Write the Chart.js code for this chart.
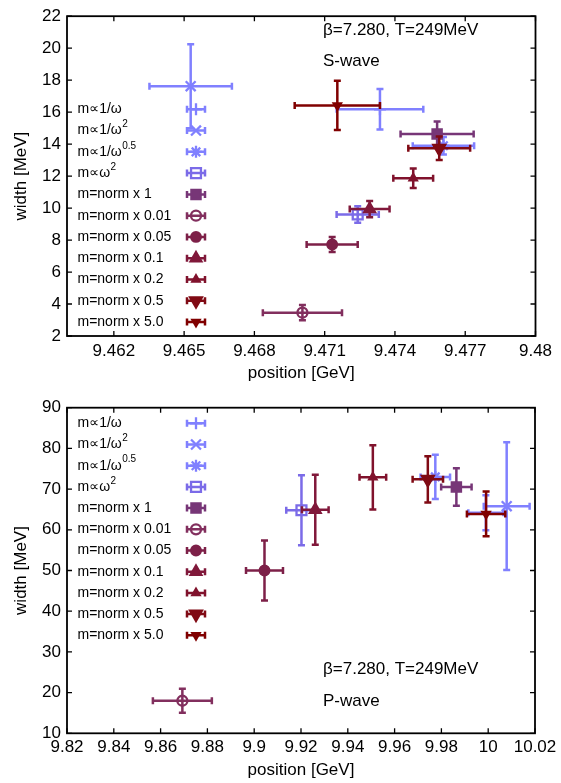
<!DOCTYPE html>
<html><head><meta charset="utf-8">
<script src="https://cdn.jsdelivr.net/npm/chart.js@4/dist/chart.umd.min.js"></script>
<style>
html,body{margin:0;padding:0;background:#fff;}
#w{position:relative;width:561px;height:783px;overflow:hidden;}
.box{position:absolute;left:0;width:561px;}
</style></head><body>
<div id="w">
<div class="box" style="top:0;height:390px"><canvas id="c1"></canvas></div>
<div class="box" style="top:390px;height:393px"><canvas id="c2"></canvas></div>
</div>
<script>
// ---------- data ----------
const seriesNames = ['m∝1/ω','m∝1/ω^2','m∝1/ω^0.5','m∝ω^2','m=norm x 1','m=norm x 0.01','m=norm x 0.05','m=norm x 0.1','m=norm x 0.2','m=norm x 0.5','m=norm x 5.0'];

// S-wave panel
const sPos      = [9.47336, 9.46528, 9.47607, 9.47241, 9.47580, 9.47005, 9.47132, 9.47292, 9.47478, 9.47589, 9.47154];
const sPosErr   = [0.00185, 0.00176, 0.00131, 0.00090, 0.00156, 0.00169, 0.00109, 0.00085, 0.00085, 0.00132, 0.00182];
const sWidth    = [16.18, 17.62, 13.90, 9.60, 14.64, 3.46, 7.72, 9.94, 11.86, 13.74, 16.42];
const sWidthErr = [1.27, 2.63, 0.55, 0.52, 0.78, 0.48, 0.47, 0.51, 0.61, 0.73, 1.54];
const sXTicks = [9.462, 9.465, 9.468, 9.471, 9.474, 9.477, 9.48];
const sYTicks = [2, 4, 6, 8, 10, 12, 14, 16, 18, 20, 22];

// P-wave panel
const pPos      = [9.9990, 10.0079, 9.9774, 9.9202, 9.9864, 9.8693, 9.9044, 9.9261, 9.9507, 9.9742, 9.9991];
const pPosErr   = [0.0075, 0.0098, 0.0063, 0.0065, 0.0065, 0.0126, 0.0079, 0.0057, 0.0057, 0.0065, 0.0082];
const pWidth    = [64.2, 65.8, 73.0, 64.8, 70.5, 18.0, 50.0, 64.9, 72.9, 72.4, 63.9];
const pWidthErr = [4.3, 15.7, 5.45, 8.6, 4.6, 2.95, 7.4, 8.6, 7.9, 5.7, 5.5];
const pXTicks = [9.82, 9.84, 9.86, 9.88, 9.9, 9.92, 9.94, 9.96, 9.98, 10, 10.02];
const pYTicks = [10, 20, 30, 40, 50, 60, 70, 80, 90];

// ---------- styles ----------
const colors = ['#8080ff','#8080ff','#8080ff','#7b6be8','#773677','#822f5e','#7d2048','#80183a','#80122c','#800a14','#800000'];
const pStyles = ['cross','crossRot','star','rect','rect','circle','circle','triangle','triangle','triangle','triangle'];
const pRadii  = [6, 7, 6, 7, 6.5, 5, 4.8, 6.2, 4.2, 6.8, 4.2];
const pRots   = [0, 0, 0, 0, 0, 0, 0, 0, 0, 180, 180];
const pFilled = [false,false,false,false,true,false,true,true,true,true,true];

const FONT = "'Liberation Sans', Arial, 'DejaVu Sans', sans-serif";

function fmt(v){ return String(Number(Number(v).toFixed(4))); }

function drawMarker(ctx, style, r, rot, x, y){
  if (Chart.helpers && Chart.helpers.drawPoint){
    Chart.helpers.drawPoint(ctx, {pointStyle:style, radius:r, rotation:rot, borderWidth:2.3}, x, y);
    return;
  }
  ctx.beginPath();
  const rad = rot*Math.PI/180;
  if (style==='circle'){ ctx.arc(x,y,r,0,2*Math.PI); ctx.fill(); ctx.stroke(); return; }
  if (style==='rect'){ const s=r*Math.SQRT1_2; ctx.rect(x-s,y-s,2*s,2*s); ctx.fill(); ctx.stroke(); return; }
  if (style==='triangle'){ for(let k=0;k<3;k++){const a=rad+k*2*Math.PI/3; const px=x+Math.sin(a)*r, py=y-Math.cos(a)*r; k?ctx.lineTo(px,py):ctx.moveTo(px,py);} ctx.closePath(); ctx.fill(); ctx.stroke(); return; }
  if (style==='cross'||style==='star'){ ctx.moveTo(x-r,y);ctx.lineTo(x+r,y);ctx.moveTo(x,y-r);ctx.lineTo(x,y+r); }
  if (style==='crossRot'||style==='star'){ const s=r*Math.SQRT1_2; ctx.moveTo(x-s,y-s);ctx.lineTo(x+s,y+s);ctx.moveTo(x-s,y+s);ctx.lineTo(x+s,y-s); }
  ctx.stroke();
}

const errBars = {
  id:'errBars',
  beforeDatasetDraw(chart, args){
    const ds = chart.data.datasets[args.index];
    const ctx = chart.ctx, xs = chart.scales.x, ys = chart.scales.y;
    ctx.save();
    ctx.strokeStyle = ds.borderColor; ctx.lineWidth = 2.5; ctx.lineCap='butt';
    ds.data.forEach(p=>{
      const cx = xs.getPixelForValue(p.x), cy = ys.getPixelForValue(p.y);
      const x0 = xs.getPixelForValue(p.x-p.xe), x1 = xs.getPixelForValue(p.x+p.xe);
      const y0 = ys.getPixelForValue(p.y-p.ye), y1 = ys.getPixelForValue(p.y+p.ye);
      const c = 3.5;
      ctx.beginPath();
      ctx.moveTo(x0,cy); ctx.lineTo(x1,cy);
      ctx.moveTo(cx,y0); ctx.lineTo(cx,y1);
      ctx.moveTo(x0,cy-c); ctx.lineTo(x0,cy+c);
      ctx.moveTo(x1,cy-c); ctx.lineTo(x1,cy+c);
      ctx.moveTo(cx-c,y0); ctx.lineTo(cx+c,y0);
      ctx.moveTo(cx-c,y1); ctx.lineTo(cx+c,y1);
      ctx.stroke();
    });
    ctx.restore();
  }
};

const frame = {
  id:'frame',
  beforeDatasetsDraw(chart){
    const {ctx, chartArea:a} = chart, xs = chart.scales.x, ys = chart.scales.y;
    ctx.save();
    ctx.strokeStyle='#000'; ctx.lineWidth=1.8;
    ctx.strokeRect(a.left, a.top, a.right-a.left, a.bottom-a.top);
    ctx.lineWidth=1.3;
    ctx.beginPath();
    xs.ticks.forEach(t=>{ const px=xs.getPixelForValue(t.value);
      ctx.moveTo(px,a.bottom); ctx.lineTo(px,a.bottom-5);
      ctx.moveTo(px,a.top); ctx.lineTo(px,a.top+5); });
    ys.ticks.forEach(t=>{ const py=ys.getPixelForValue(t.value);
      ctx.moveTo(a.left,py); ctx.lineTo(a.left+5,py);
      ctx.moveTo(a.right,py); ctx.lineTo(a.right-5,py); });
    ctx.stroke();
    ctx.restore();
  }
};

const legendAndNotes = {
  id:'legendAndNotes',
  afterDraw(chart, args, opts){
    const ctx = chart.ctx;
    ctx.save();
    ctx.textBaseline='middle'; ctx.fillStyle='#000';
    chart.data.datasets.forEach((ds,i)=>{
      const y = opts.legendY + i*opts.legendStep;
      const parts = ds.label.split('^');
      ctx.font = '14px '+FONT; ctx.fillStyle='#000';
      ctx.fillText(parts[0], opts.legendX, y);
      if (parts[1]){
        const w = ctx.measureText(parts[0]).width;
        ctx.font = '10px '+FONT;
        ctx.fillText(parts[1], opts.legendX + w + 0.5, y-6);
      }
      const mx = opts.markerX;
      ctx.strokeStyle = ds.borderColor; ctx.lineWidth=2.5;
      ctx.beginPath();
      ctx.moveTo(mx-9,y); ctx.lineTo(mx+9,y);
      ctx.moveTo(mx-9,y-3.5); ctx.lineTo(mx-9,y+3.5);
      ctx.moveTo(mx+9,y-3.5); ctx.lineTo(mx+9,y+3.5);
      ctx.stroke();
      ctx.fillStyle = ds.backgroundColor; ctx.lineWidth=2.3;
      drawMarker(ctx, ds.pointStyle, ds.pointRadius, ds.pointRotation, mx, y);
    });
    ctx.fillStyle='#000'; ctx.font='17px '+FONT;
    opts.notes.forEach(n=>ctx.fillText(n.text, n.x, n.y));
    ctx.restore();
  }
};

function makeChart(id, P){
  const datasets = seriesNames.map((n,i)=>({
    label:n,
    data:[{x:P.pos[i], y:P.wid[i], xe:P.posErr[i], ye:P.widErr[i]}],
    borderColor:colors[i],
    backgroundColor: pFilled[i] ? colors[i] : 'rgba(0,0,0,0)',
    pointStyle:pStyles[i], pointRadius:pRadii[i], pointRotation:pRots[i],
    pointBorderWidth:2.3, pointHoverRadius:pRadii[i],
    order: seriesNames.length - i
  }));
  const tickFont = {family:FONT, size:17};
  return new Chart(document.getElementById(id), {
    type:'scatter',
    data:{datasets},
    options:{
      responsive:true, maintainAspectRatio:false, animation:false, devicePixelRatio:1,
      layout:{padding:P.pad},
      plugins:{legend:{display:false}, tooltip:{enabled:false},
        legendAndNotes:{legendX:77.5, markerX:196, legendY:P.legendY, legendStep:P.legendStep, notes:P.notes}},
      scales:{
        x:{type:'linear', min:P.xmin, max:P.xmax,
           afterBuildTicks:s=>{ s.ticks = P.xTicks.map(v=>({value:v})); },
           afterFit:s=>{ s.height = P.xH; },
           ticks:{callback:v=>fmt(v), font:tickFont, color:'#000', padding:P.xPad, autoSkip:false, maxRotation:0, minRotation:0},
           grid:{display:false, drawTicks:false}, border:{display:false},
           title:{display:true, text:'position [GeV]', font:tickFont, color:'#000', padding:{top:0,bottom:P.xTitlePad}}},
        y:{type:'linear', min:P.ymin, max:P.ymax,
           afterBuildTicks:s=>{ s.ticks = P.yTicks.map(v=>({value:v})); },
           afterFit:s=>{ s.width = 67; },
           ticks:{callback:v=>fmt(v), font:tickFont, color:'#000', padding:6, autoSkip:false},
           grid:{display:false, drawTicks:false}, border:{display:false},
           title:{display:true, text:'width [MeV]', font:tickFont, color:'#000', padding:{top:11,bottom:0}}}
      }
    },
    plugins:[frame, errBars, legendAndNotes]
  });
}

makeChart('c1', {pos:sPos, posErr:sPosErr, wid:sWidth, widErr:sWidthErr,
  xmin:9.46, xmax:9.48, ymin:2, ymax:22, xTicks:sXTicks, yTicks:sYTicks,
  pad:{top:11, right:25.5, bottom:0, left:0}, xH:54, xPad:5, xTitlePad:6.8,
  legendY:109.3, legendStep:21.27,
  notes:[{text:'β=7.280, T=249MeV', x:323, y:30},{text:'S-wave', x:323, y:61}]});

makeChart('c2', {pos:pPos, posErr:pPosErr, wid:pWidth, widErr:pWidthErr,
  xmin:9.82, xmax:10.02, ymin:10, ymax:90, xTicks:pXTicks, yTicks:pYTicks,
  pad:{top:17.7, right:26, bottom:0, left:0}, xH:49.7, xPad:4, xTitlePad:2.8,
  legendY:33.3, legendStep:21.2,
  notes:[{text:'β=7.280, T=249MeV', x:323, y:279},{text:'P-wave', x:323, y:311}]});
</script>
</body></html>
